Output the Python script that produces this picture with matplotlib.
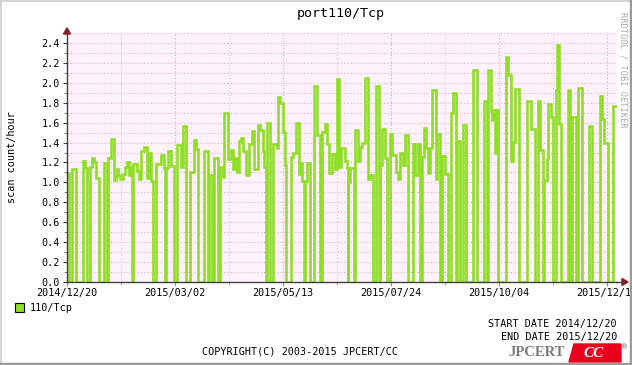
import datetime
import matplotlib
matplotlib.use("Agg")
import matplotlib.pyplot as plt
import matplotlib.patches as mpatches
from matplotlib.lines import Line2D

# step change points: day offset from 2014/12/20 and scan count/hour from that day on
days = [0, 1.1, 3.3, 6, 10.7, 12, 13.1, 15.3, 16.7, 18, 19.3, 21.5, 24.7, 26.4, 27.3, 29.3,
        31.3, 32.4, 33.1, 34.2, 35.3, 37.6, 38.7, 39.8, 41.6, 42.4, 43.3, 44.2, 46.4, 48.2,
        49.6, 51.3, 53.6, 54.9, 56.2, 57.6, 59.3,
        62.7, 64.4, 65.5, 66.2, 67.3, 69.5, 71.6, 73.3, 76, 77.3, 79.6, 82.2, 84.4, 86.2, 87.6,
        91.1, 93.8, 94.7, 96.4, 98.2, 100.4, 102.2, 103.8, 104.9, 107.6, 109.3, 110.5, 112,
        113.3, 114.7, 116.2, 117.3, 119.1, 121.3,
        123.3, 125, 127, 128.7, 130.4, 131.5, 132.6, 133.6, 135, 137, 140.2, 140.7, 142, 144.2,
        145, 146, 149.6, 150.9, 152.7, 154.4, 155.3, 156.7, 158, 158.6, 159.8, 162, 164.7,
        166.4, 168.7, 170, 171.8, 173.6, 174.4, 176.7, 178.9, 180.2, 181.6, 182.9,
        185.3, 186.5, 187.2, 187.6, 188.9, 191.1, 192, 193.8, 195.6, 196.9, 198.7, 200.9,
        202.2, 204, 206.2, 208, 208.9, 210.2, 212, 213.3, 215.1, 216.9, 219.1, 220.9, 222.2,
        224, 225.3, 227.6, 230.7, 231.8, 233.8, 235.6, 236.4, 238.2, 239.6, 240.9, 242.2,
        243.6, 245.8,
        247, 249, 250, 251.8, 254, 256.2, 257.1, 259.3, 260.2, 262, 264.2, 266, 271, 273.1,
        278, 280.2, 280.7, 282.4, 283.3, 284.7, 285.5, 286.3, 287.3, 292.7, 294, 295.8, 297,
        298.4, 301.1, 306.4,
        308, 309.5, 312, 314.2, 315.6, 317.3, 318.2, 320, 320.7, 322.7, 324, 325.8, 326.7,
        328, 329.3, 333.8, 335.6, 336.4, 339.1, 340.4, 343.1, 348, 350.2, 355.1, 356.9,
        357.8, 360.4, 364, 366]
vals = [1.09, 0, 1.13, 0, 1.21, 1.14, 0, 1.15, 1.24, 1.20, 1.04, 0, 1.19, 0, 1.25, 1.44,
        1.02, 1.06, 1.13, 1.07, 1.03, 1.08, 1.15, 1.20, 1.07, 1.15, 0, 1.18, 1.11, 1.03,
        1.32, 1.36, 1.04, 1.30, 1.01, 0, 1.18,
        1.28, 1.14, 0, 1.14, 1.32, 1.16, 0, 1.38, 1.15, 1.57, 0, 1.10, 1.43, 1.34, 0,
        1.32, 0, 1.07, 0, 1.25, 0, 1.15, 1.05, 1.70, 1.23, 1.33, 1.13, 1.24,
        1.10, 1.42, 1.45, 1.32, 1.07, 1.39,
        1.52, 1.13, 1.58, 1.53, 1.32, 1.15, 0, 1.60, 0, 1.39, 1.35, 1.86, 1.80, 1.51,
        1.17, 0, 1.26, 1.30, 1.60, 1.08, 1.19, 1.01, 0, 1.01, 1.19, 0, 1.97,
        1.48, 0, 1.51, 1.59, 1.39, 1.09, 1.29, 1.13, 2.04, 1.15, 1.35,
        1.21, 1.14, 0, 1.00, 1.14, 0, 1.53, 1.21, 1.36, 1.40, 2.05, 1.03,
        1.07, 0, 1.97, 0, 1.17, 1.54, 1.24, 0, 1.49, 1.28, 1.10, 1.03, 1.30,
        1.17, 1.48, 0, 1.39, 1.07, 1.39, 0, 1.26, 1.55, 1.35, 1.09, 1.35,
        1.93, 1.03,
        1.49, 0, 1.27, 1.08, 0, 1.70, 1.90, 0, 1.42, 0, 1.58, 0, 2.13, 0,
        1.82, 0, 2.13, 1.72, 1.63, 1.73, 1.30, 1.73, 0, 2.26, 2.08, 1.21, 1.41,
        1.94, 0, 1.82,
        1.82, 1.54, 0, 1.82, 1.33, 0, 1.02, 1.23, 1.79, 1.66, 0, 1.93, 2.38,
        1.59, 0, 1.93, 0, 1.66, 0, 1.95, 0, 1.57, 0, 1.87, 1.64,
        1.40, 0, 1.77, 1.77]

start_date = datetime.date(2014, 12, 20)
major_step = 72
y_labels = [0.0, 0.2, 0.4, 0.6, 0.8, 1.0, 1.2, 1.4, 1.6, 1.8, 2.0, 2.2, 2.4]

W, H = 632, 365
GREEN = "#8fdf28"
MONO = "DejaVu Sans Mono"


def fx(px):
    return px / W


def fy(py):
    return 1 - py / H


fig = plt.figure(figsize=(W / 100, H / 100), dpi=100)
fig.patch.set_facecolor("white")

# plot area in pixels: x 67..617, y 33..282
ax = fig.add_axes([fx(67), fy(282), (617 - 67) / W, (282 - 33) / H])
ax.set_facecolor("#fff2fc")
ax.set_xlim(0, 550 / 1.5)
ax.set_ylim(0, 2.5)

# grid
for i in range(1, 26):
    ax.axhline(i * 0.1, color="#e6a4b4", lw=0.8, ls=(0, (1, 2)), zorder=1)
for k in range(1, 11):
    d = k * major_step / 2
    if k % 2 == 0:
        ax.axvline(d, color="#ee9a9a", lw=0.8, ls=(0, (1, 2)), zorder=1)
    else:
        ax.axvline(d, color="#d8c0cc", lw=0.8, ls=(0, (1, 2)), zorder=1)

ax.step(days, vals, where="post", color=GREEN, lw=1.9, zorder=3,
        solid_joinstyle="miter", clip_on=True)

# axes / ticks
for s in ["top", "right"]:
    ax.spines[s].set_visible(False)
ax.spines["left"].set_color("#404040")
ax.spines["bottom"].set_color("#404040")
ax.spines["left"].set_linewidth(1)
ax.spines["bottom"].set_linewidth(1)
ax.spines["left"].set_zorder(4)
ax.spines["bottom"].set_zorder(4)

ax.set_yticks(y_labels)
ax.set_yticklabels([f"{v:.1f}" for v in y_labels], fontfamily=MONO, fontsize=7.3)
ax.set_yticks([i * 0.1 for i in range(26)], minor=True)
xt = [k * major_step for k in range(6)]
ax.set_xticks(xt)
ax.set_xticklabels([(start_date + datetime.timedelta(days=d)).strftime("%Y/%m/%d") for d in xt],
                   fontfamily=MONO, fontsize=7.3)
ax.set_xticks([k * major_step / 2 for k in range(11)], minor=True)
ax.tick_params(axis="y", which="major", length=3, width=0.8, color="#404040", pad=2)
ax.tick_params(axis="y", which="minor", length=2, width=0.8, color="#808080")
ax.tick_params(axis="x", which="major", length=3, width=0.8, color="#e07070", pad=1)
ax.tick_params(axis="x", which="minor", length=2, width=0.8, color="#c0a0a0")

fig.text(fx(12), fy(157), "scan count/hour", fontfamily=MONO, fontsize=7.3,
         rotation=90, ha="center", va="center")

# axis arrows
fig.add_artist(Line2D([fx(617), fx(624)], [fy(282), fy(282)], color="#404040", lw=1))
fig.add_artist(mpatches.Polygon([[fx(622), fy(278.5)], [fx(628), fy(282)], [fx(622), fy(285.5)]],
                                closed=True, color="#8b1a1a", transform=fig.transFigure))
fig.add_artist(Line2D([fx(67), fx(67)], [fy(33), fy(28)], color="#404040", lw=1))
fig.add_artist(mpatches.Polygon([[fx(63.5), fy(34)], [fx(67), fy(28)], [fx(70.5), fy(34)]],
                                closed=True, color="#8b1a1a", transform=fig.transFigure))

# title and texts
fig.text(fx(341), fy(14), "port110/Tcp", fontfamily=MONO, fontsize=9.6, ha="center", va="center")
fig.text(fx(623), fy(12), "RRDTOOL / TOBI OETIKER", fontfamily=MONO, fontsize=6.2,
         color="#a8a8a8", rotation=270, ha="center", va="top")

fig.add_artist(mpatches.Rectangle((fx(15), fy(312)), 9 / W, 9 / H, facecolor=GREEN,
                                  edgecolor="black", lw=0.8, transform=fig.transFigure))
fig.text(fx(30), fy(308), "110/Tcp", fontfamily=MONO, fontsize=7.3, va="center")
fig.text(fx(617), fy(324), "START DATE 2014/12/20", fontfamily=MONO, fontsize=7.3,
         ha="right", va="center")
fig.text(fx(617), fy(337), "END DATE 2015/12/20", fontfamily=MONO, fontsize=7.3,
         ha="right", va="center")
fig.text(fx(300), fy(351), "COPYRIGHT(C) 2003-2015 JPCERT/CC", fontfamily=MONO, fontsize=7.3,
         ha="center", va="center")

# JPCERT/CC logo
fig.text(fx(565), fy(353), "JPCERT", fontfamily="Liberation Serif", fontweight="bold",
         fontsize=10.5, color="#7a7a7a", ha="right", va="center")
fig.add_artist(mpatches.Polygon([[fx(569), fy(362)], [fx(574), fy(344)], [fx(621), fy(344)],
                                 [fx(621), fy(362)]], closed=True, color="#e8001c",
                                transform=fig.transFigure))
fig.text(fx(594), fy(353.5), "CC", fontfamily="Liberation Serif", fontweight="bold",
         fontstyle="italic", fontsize=11, color="white", ha="center", va="center")
fig.text(fx(625), fy(347), "®", fontsize=5, color="#555555", ha="center", va="center")

# frame
fig.add_artist(Line2D([0, 1], [fy(1), fy(1)], color="#d4d4d4", lw=1.5))
fig.add_artist(Line2D([fx(1), fx(1)], [0, 1], color="#d4d4d4", lw=1.5))
fig.add_artist(Line2D([0, 1], [fy(364), fy(364)], color="#9a9a9a", lw=2.5))
fig.add_artist(Line2D([fx(631), fx(631)], [0, 1], color="#9a9a9a", lw=2.5))

fig.savefig("out.png", dpi=100)
